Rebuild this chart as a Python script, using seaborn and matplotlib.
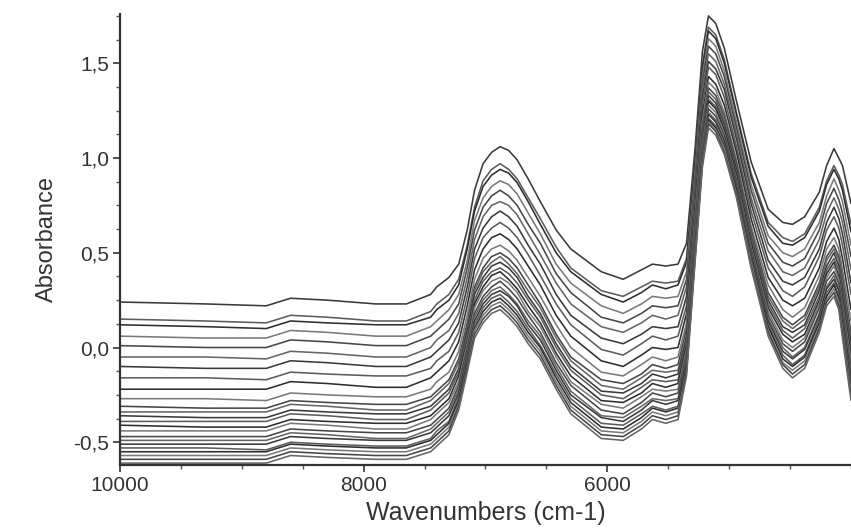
import matplotlib
matplotlib.use("Agg")
import matplotlib.pyplot as plt
from matplotlib.ticker import FixedLocator, MultipleLocator, FuncFormatter
import pandas as pd
import seaborn as sns

# ---------------- data ----------------
wavenumbers = [10000, 9300, 8800, 8600, 8300, 7900, 7650, 7450, 7400, 7300,
               7220, 7150, 7090, 7020, 6950, 6880, 6810, 6740, 6650, 6550,
               6420, 6300, 6050, 5870, 5720, 5630, 5520, 5420, 5350, 5280,
               5220, 5170, 5110, 5040, 4940, 4820, 4680, 4560, 4480, 4380,
               4260, 4200, 4140, 4100, 4070, 4000]

s01 = [0.24,0.23,0.22,0.26,0.25,0.23,0.23,0.28,0.32,0.37,0.44,0.62,0.83,0.97,1.03,1.06,1.04,0.99,0.89,0.77,0.62,0.52,0.40,0.36,0.41,0.44,0.43,0.44,0.55,1.05,1.56,1.75,1.71,1.58,1.30,0.98,0.73,0.66,0.65,0.69,0.82,0.96,1.05,1.00,0.96,0.76]
s02 = [0.15,0.14,0.13,0.17,0.16,0.14,0.14,0.19,0.23,0.28,0.36,0.54,0.74,0.88,0.94,0.97,0.94,0.89,0.79,0.68,0.53,0.42,0.30,0.27,0.32,0.35,0.34,0.35,0.47,0.98,1.49,1.69,1.65,1.52,1.24,0.92,0.66,0.58,0.56,0.60,0.74,0.88,0.96,0.91,0.86,0.65]
s03 = [0.12,0.11,0.10,0.14,0.13,0.12,0.12,0.16,0.20,0.25,0.33,0.52,0.72,0.85,0.91,0.94,0.92,0.87,0.77,0.65,0.50,0.40,0.28,0.24,0.29,0.33,0.31,0.33,0.45,0.97,1.47,1.67,1.63,1.50,1.23,0.90,0.64,0.55,0.54,0.58,0.72,0.86,0.94,0.89,0.83,0.61]
s04 = [0.06,0.05,0.05,0.09,0.08,0.06,0.06,0.11,0.14,0.20,0.28,0.46,0.67,0.79,0.85,0.88,0.86,0.81,0.71,0.60,0.44,0.34,0.22,0.18,0.23,0.27,0.26,0.27,0.40,0.92,1.43,1.63,1.59,1.46,1.19,0.86,0.59,0.50,0.48,0.52,0.66,0.80,0.89,0.83,0.77,0.54]
s05 = [0.01,0.00,0.00,0.04,0.03,0.01,0.01,0.06,0.09,0.15,0.23,0.42,0.62,0.74,0.80,0.83,0.80,0.75,0.65,0.55,0.39,0.29,0.16,0.13,0.18,0.22,0.21,0.22,0.36,0.89,1.40,1.59,1.55,1.43,1.16,0.83,0.55,0.45,0.43,0.47,0.62,0.76,0.84,0.78,0.71,0.48]
s06 = [-0.05,-0.05,-0.06,-0.02,-0.03,-0.05,-0.05,0.00,0.04,0.09,0.18,0.37,0.57,0.69,0.75,0.77,0.75,0.70,0.60,0.49,0.34,0.23,0.11,0.08,0.13,0.17,0.15,0.17,0.32,0.85,1.36,1.55,1.51,1.39,1.13,0.79,0.51,0.40,0.38,0.42,0.57,0.71,0.79,0.73,0.66,0.41]
s07 = [-0.10,-0.11,-0.11,-0.07,-0.08,-0.10,-0.10,-0.05,-0.02,0.04,0.13,0.32,0.52,0.63,0.69,0.72,0.69,0.64,0.54,0.44,0.28,0.17,0.05,0.02,0.07,0.11,0.10,0.11,0.27,0.81,1.32,1.51,1.47,1.36,1.10,0.76,0.46,0.35,0.33,0.37,0.52,0.66,0.74,0.68,0.60,0.34]
s08 = [-0.16,-0.16,-0.17,-0.13,-0.14,-0.15,-0.15,-0.11,-0.07,-0.02,0.08,0.27,0.47,0.58,0.63,0.66,0.63,0.58,0.49,0.38,0.23,0.12,-0.01,-0.04,0.02,0.06,0.04,0.06,0.22,0.77,1.28,1.48,1.44,1.32,1.06,0.72,0.42,0.30,0.27,0.32,0.48,0.62,0.69,0.63,0.54,0.28]
s09 = [-0.22,-0.22,-0.22,-0.18,-0.19,-0.21,-0.21,-0.16,-0.13,-0.07,0.03,0.22,0.41,0.52,0.58,0.60,0.57,0.52,0.43,0.33,0.17,0.06,-0.07,-0.10,-0.04,0.00,-0.01,0.00,0.18,0.73,1.23,1.43,1.39,1.28,1.03,0.68,0.37,0.25,0.22,0.26,0.42,0.56,0.63,0.57,0.47,0.20]
s10 = [-0.27,-0.27,-0.28,-0.24,-0.25,-0.26,-0.26,-0.22,-0.18,-0.13,-0.02,0.17,0.36,0.47,0.52,0.54,0.51,0.46,0.37,0.27,0.12,0.00,-0.13,-0.15,-0.09,-0.05,-0.07,-0.05,0.13,0.69,1.19,1.40,1.36,1.24,0.99,0.64,0.33,0.20,0.16,0.21,0.38,0.52,0.58,0.52,0.41,0.14]
s11 = [-0.31,-0.32,-0.32,-0.28,-0.29,-0.30,-0.30,-0.26,-0.23,-0.17,-0.06,0.13,0.32,0.42,0.48,0.50,0.47,0.42,0.33,0.23,0.07,-0.05,-0.17,-0.19,-0.14,-0.09,-0.11,-0.09,0.10,0.66,1.16,1.37,1.33,1.22,0.97,0.62,0.29,0.16,0.12,0.17,0.34,0.48,0.54,0.48,0.37,0.08]
s12 = [-0.34,-0.34,-0.34,-0.30,-0.31,-0.33,-0.33,-0.28,-0.25,-0.19,-0.08,0.11,0.30,0.40,0.45,0.48,0.44,0.39,0.30,0.21,0.05,-0.07,-0.20,-0.22,-0.16,-0.12,-0.13,-0.12,0.07,0.64,1.15,1.35,1.31,1.20,0.95,0.60,0.27,0.14,0.10,0.15,0.32,0.46,0.52,0.46,0.34,0.05]
s13 = [-0.36,-0.37,-0.37,-0.33,-0.34,-0.35,-0.35,-0.31,-0.28,-0.22,-0.11,0.09,0.28,0.37,0.43,0.45,0.42,0.37,0.27,0.18,0.02,-0.10,-0.23,-0.24,-0.19,-0.14,-0.16,-0.14,0.05,0.62,1.13,1.33,1.29,1.18,0.94,0.58,0.25,0.11,0.08,0.12,0.30,0.43,0.50,0.43,0.31,0.02]
s14 = [-0.39,-0.39,-0.39,-0.35,-0.36,-0.38,-0.38,-0.33,-0.30,-0.24,-0.13,0.07,0.25,0.35,0.40,0.42,0.39,0.34,0.25,0.16,0.00,-0.12,-0.25,-0.27,-0.21,-0.17,-0.18,-0.17,0.03,0.61,1.11,1.31,1.27,1.17,0.92,0.57,0.23,0.09,0.05,0.10,0.27,0.41,0.47,0.41,0.29,-0.01]
s15 = [-0.41,-0.42,-0.42,-0.38,-0.39,-0.40,-0.40,-0.36,-0.33,-0.27,-0.15,0.04,0.23,0.32,0.38,0.40,0.36,0.31,0.22,0.13,-0.03,-0.15,-0.28,-0.29,-0.24,-0.19,-0.21,-0.19,0.01,0.59,1.09,1.30,1.26,1.15,0.91,0.55,0.21,0.07,0.03,0.07,0.25,0.39,0.45,0.38,0.26,-0.04]
s16 = [-0.44,-0.44,-0.44,-0.40,-0.41,-0.43,-0.43,-0.38,-0.35,-0.29,-0.18,0.02,0.21,0.30,0.35,0.37,0.34,0.29,0.19,0.11,-0.05,-0.18,-0.30,-0.32,-0.26,-0.22,-0.23,-0.22,-0.01,0.57,1.07,1.28,1.24,1.13,0.89,0.53,0.19,0.04,0.00,0.05,0.23,0.37,0.43,0.36,0.23,-0.07]
s17 = [-0.47,-0.47,-0.47,-0.43,-0.44,-0.45,-0.45,-0.41,-0.38,-0.32,-0.20,0.00,0.18,0.27,0.32,0.35,0.31,0.26,0.17,0.08,-0.08,-0.20,-0.33,-0.35,-0.29,-0.24,-0.26,-0.24,-0.03,0.55,1.05,1.26,1.22,1.12,0.88,0.52,0.17,0.02,-0.02,0.03,0.21,0.35,0.40,0.34,0.21,-0.10]
s18 = [-0.49,-0.49,-0.49,-0.45,-0.46,-0.48,-0.48,-0.43,-0.40,-0.34,-0.22,-0.03,0.16,0.25,0.30,0.32,0.28,0.23,0.14,0.06,-0.10,-0.23,-0.36,-0.37,-0.31,-0.27,-0.28,-0.27,-0.05,0.53,1.04,1.24,1.20,1.10,0.86,0.50,0.15,0.00,-0.05,0.00,0.18,0.32,0.38,0.31,0.18,-0.13]
s19 = [-0.51,-0.51,-0.51,-0.47,-0.48,-0.49,-0.49,-0.45,-0.42,-0.36,-0.24,-0.04,0.14,0.23,0.28,0.30,0.27,0.22,0.12,0.04,-0.12,-0.25,-0.37,-0.39,-0.33,-0.28,-0.30,-0.28,-0.07,0.52,1.02,1.23,1.19,1.09,0.85,0.49,0.14,-0.02,-0.06,-0.01,0.17,0.31,0.36,0.30,0.16,-0.16]
s20 = [-0.53,-0.53,-0.54,-0.50,-0.51,-0.52,-0.52,-0.48,-0.44,-0.39,-0.26,-0.06,0.12,0.21,0.26,0.28,0.24,0.19,0.10,0.01,-0.14,-0.27,-0.40,-0.41,-0.35,-0.31,-0.33,-0.31,-0.09,0.50,1.01,1.21,1.17,1.07,0.84,0.47,0.12,-0.04,-0.09,-0.04,0.15,0.29,0.34,0.27,0.13,-0.19]
s21 = [-0.55,-0.55,-0.55,-0.51,-0.52,-0.53,-0.53,-0.49,-0.46,-0.40,-0.28,-0.08,0.10,0.19,0.24,0.26,0.22,0.17,0.08,0.00,-0.16,-0.29,-0.42,-0.43,-0.37,-0.32,-0.34,-0.32,-0.10,0.49,0.99,1.20,1.16,1.06,0.83,0.46,0.11,-0.06,-0.10,-0.05,0.13,0.27,0.33,0.26,0.11,-0.21]
s22 = [-0.57,-0.57,-0.57,-0.53,-0.54,-0.55,-0.55,-0.51,-0.48,-0.42,-0.30,-0.10,0.09,0.17,0.22,0.24,0.20,0.15,0.06,-0.02,-0.18,-0.31,-0.44,-0.45,-0.39,-0.34,-0.36,-0.34,-0.12,0.48,0.98,1.19,1.15,1.05,0.81,0.45,0.09,-0.08,-0.12,-0.07,0.11,0.25,0.31,0.24,0.09,-0.23]
s23 = [-0.59,-0.59,-0.59,-0.55,-0.56,-0.57,-0.57,-0.53,-0.50,-0.44,-0.31,-0.11,0.07,0.15,0.20,0.22,0.18,0.13,0.04,-0.04,-0.20,-0.33,-0.46,-0.47,-0.41,-0.36,-0.38,-0.36,-0.13,0.47,0.97,1.18,1.14,1.03,0.80,0.43,0.08,-0.09,-0.14,-0.09,0.10,0.24,0.29,0.22,0.07,-0.25]
s24 = [-0.61,-0.61,-0.61,-0.57,-0.58,-0.59,-0.59,-0.55,-0.52,-0.46,-0.33,-0.13,0.05,0.13,0.18,0.20,0.16,0.11,0.02,-0.06,-0.22,-0.35,-0.48,-0.49,-0.43,-0.38,-0.40,-0.38,-0.15,0.45,0.95,1.16,1.12,1.02,0.79,0.42,0.06,-0.11,-0.16,-0.11,0.08,0.22,0.27,0.20,0.05,-0.28]

spectra = {"s01": s01, "s02": s02, "s03": s03, "s04": s04, "s05": s05, "s06": s06,
           "s07": s07, "s08": s08, "s09": s09, "s10": s10, "s11": s11, "s12": s12,
           "s13": s13, "s14": s14, "s15": s15, "s16": s16, "s17": s17, "s18": s18,
           "s19": s19, "s20": s20, "s21": s21, "s22": s22, "s23": s23, "s24": s24}

y_ticks = [-0.5, 0.0, 0.5, 1.0, 1.5]
x_ticks = [10000, 8000, 6000]

# ---------------- long table for seaborn ----------------
rows = []
for name, vals in spectra.items():
    for w, a in zip(wavenumbers, vals, strict=True):
        rows.append((name, w, a))
df = pd.DataFrame(rows, columns=["spectrum", "wavenumber", "absorbance"])

gray_cycle = ["#3a3a3a", "#5c5c5c", "#2e2e2e", "#7a7a7a", "#474747", "#666666"]
palette = {name: gray_cycle[i % len(gray_cycle)] for i, name in enumerate(spectra)}

# ---------------- figure ----------------
sns.set_style("ticks")
plt.rcParams["font.family"] = ["Liberation Sans", "DejaVu Sans"]

W, H = 851, 531
fig = plt.figure(figsize=(W / 100, H / 100), dpi=100)
ax = fig.add_axes([120 / W, 1 - 465 / H, 1 - 120 / W, (465 - 14) / H])

sns.lineplot(data=df, x="wavenumber", y="absorbance", hue="spectrum",
             palette=palette, estimator=None, sort=False, legend=False,
             linewidth=1.15, ax=ax)

ax.set_xlim(10000, 4000)
ax.set_ylim(-0.62, 1.76)

ax.xaxis.set_major_locator(FixedLocator(x_ticks))
ax.xaxis.set_minor_locator(MultipleLocator(500))
ax.yaxis.set_major_locator(FixedLocator(y_ticks))
ax.yaxis.set_minor_locator(MultipleLocator(0.125))
ax.yaxis.set_major_formatter(FuncFormatter(lambda v, p: f"{v:.1f}".replace(".", ",")))
ax.xaxis.set_major_formatter(FuncFormatter(lambda v, p: f"{int(v)}"))

for side in ("top", "right"):
    ax.spines[side].set_visible(False)
for side in ("left", "bottom"):
    ax.spines[side].set_color("#333333")
    ax.spines[side].set_linewidth(1.6)

ax.tick_params(axis="both", which="major", length=5, width=1.2, colors="#333333",
               labelsize=15, labelcolor="#333333", pad=3)
ax.tick_params(axis="both", which="minor", length=3, width=1.0, colors="#555555")

ax.set_xlabel("Wavenumbers (cm-1)", fontsize=18, color="#333333", labelpad=4)
ax.set_ylabel("Absorbance", fontsize=17, color="#333333", labelpad=11)

fig.savefig("out.png", dpi=100)
